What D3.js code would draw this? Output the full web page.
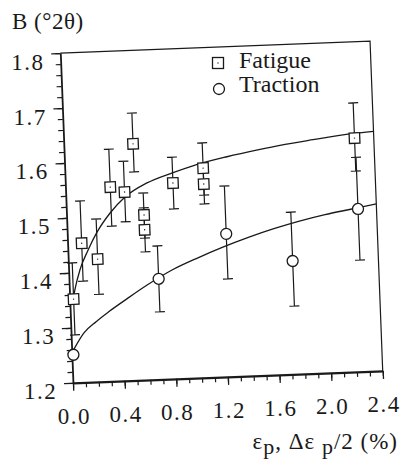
<!DOCTYPE html>
<html><head><meta charset="utf-8"><script src="https://cdn.jsdelivr.net/npm/d3@7"></script></head>
<body style="margin:0">
<svg id="chart" width="404" height="459"></svg>
<script>
// fatigue (squares)
const fatigueX = [0.03, 0.109, 0.228, 0.347, 0.456, 0.536, 0.60, 0.60, 0.833, 1.071, 1.071, 2.251];
const fatigueY = [1.352, 1.453, 1.423, 1.553, 1.543, 1.630, 1.500, 1.473, 1.556, 1.581, 1.552, 1.625];
const fatigueLo = [1.287, 1.384, 1.359, 1.482, 1.489, 1.579, 1.458, 1.433, 1.509, 1.532, 1.516, 1.565];
const fatigueHi = [1.418, 1.530, 1.496, 1.622, 1.599, 1.686, 1.540, 1.513, 1.603, 1.627, 1.588, 1.689];

// traction (circles)
const tractionX = [0.012, 0.694, 1.23, 1.736, 2.257];
const tractionY = [1.251, 1.383, 1.46, 1.406, 1.496];
const tractionLo = [null, 1.323, 1.378, 1.324, 1.403];
const tractionHi = [null, 1.443, 1.547, 1.495, 1.59];

// fitted curves
const fatigueCurveX = [0.03, 0.043, 0.088, 0.156, 0.231, 0.338, 0.458, 0.632, 0.837, 0.992, 1.259, 1.517, 1.672, 1.929, 2.217, 2.4];
const fatigueCurveY = [1.355, 1.369, 1.405, 1.44, 1.472, 1.506, 1.534, 1.558, 1.575, 1.586, 1.600, 1.611, 1.617, 1.625, 1.633, 1.636];
const tractionCurveX = [0.01, 0.1, 0.2, 0.3, 0.45, 0.6, 0.8, 1.0, 1.2, 1.4, 1.6, 1.8, 2.0, 2.2, 2.4];
const tractionCurveY = [1.258, 1.29, 1.31, 1.327, 1.35, 1.372, 1.398, 1.418, 1.436, 1.452, 1.466, 1.478, 1.488, 1.496, 1.504];

const xMajor = [0, 0.4, 0.8, 1.2, 1.6, 2.0, 2.4];
const xMinor = d3.range(0, 25).map(i => i / 10);
const yMajor = [1.2, 1.3, 1.4, 1.5, 1.6, 1.7, 1.8];
const yMinor = d3.range(0, 31).map(i => 1.2 + i * 0.02);

const ink = '#1a1a1a';
const font = "'Liberation Serif'";
const tilt = -2.2; // the scan is slightly rotated
const cx = 221.5, cy = 212;

const svg = d3.select('#chart');
svg.append('rect').attr('width', 404).attr('height', 459).attr('fill', '#fff');

const x = d3.scaleLinear().domain([0, 2.4]).range([66.5, 376.5]);
const y = d3.scaleLinear().domain([1.2, 1.8]).range([377, 47]);

const g = svg.append('g').attr('transform', `rotate(${tilt},${cx},${cy})`);

// frame top / right
g.append('path')
  .attr('d', `M${x(0)},${y(1.8)}H${x(2.4)}V${y(1.2)}`)
  .attr('fill', 'none').attr('stroke', ink).attr('stroke-width', 1.2);

function styleAxis(sel, width) {
  sel.select('.domain').attr('stroke', ink).attr('stroke-width', width);
  sel.selectAll('.tick line').attr('stroke', ink).attr('stroke-width', 1.3);
  sel.selectAll('text')
    .style('font-family', font)
    .style('font-size', '23px')
    .style('letter-spacing', '1.5px')
    .attr('fill', ink);
}

// x axis
const xMin = g.append('g').attr('transform', `translate(0,${y(1.2)})`)
  .call(d3.axisBottom(x).tickValues(xMinor).tickSize(5).tickSizeOuter(0).tickFormat(''));
xMin.select('.domain').remove();
xMin.selectAll('.tick line').attr('stroke', ink).attr('stroke-width', 1.2);

const xAx = g.append('g').attr('transform', `translate(0,${y(1.2)})`)
  .call(d3.axisBottom(x).tickValues(xMajor).tickSize(8).tickSizeOuter(0)
    .tickPadding(17).tickFormat(d3.format('.1f')));
styleAxis(xAx, 2.2);
xAx.selectAll('text').attr('transform', `rotate(${-tilt},0,26)`);

// y axis
const yMin = g.append('g').attr('transform', `translate(${x(0)},0)`)
  .call(d3.axisLeft(y).tickValues(yMinor).tickSize(5).tickSizeOuter(0).tickFormat(''));
yMin.select('.domain').remove();
yMin.selectAll('.tick line').attr('stroke', ink).attr('stroke-width', 1.2);

const yAx = g.append('g').attr('transform', `translate(${x(0)},0)`)
  .call(d3.axisLeft(y).tickValues(yMajor).tickSize(9).tickSizeOuter(0)
    .tickPadding(7).tickFormat(d3.format('.1f')));
styleAxis(yAx, 1.8);
yAx.selectAll('text').attr('transform', `translate(0,8) rotate(${-tilt},-16,0)`);

// curves
g.append('clipPath').attr('id', 'plot')
  .append('rect').attr('x', x(0)).attr('y', y(1.8))
  .attr('width', x(2.4) - x(0)).attr('height', y(1.2) - y(1.8));

const line = d3.line().x(d => x(d[0])).y(d => y(d[1])).curve(d3.curveMonotoneX);
const curves = g.append('g').attr('clip-path', 'url(#plot)');
curves.append('path').attr('d', line(d3.zip(fatigueCurveX, fatigueCurveY)))
  .attr('fill', 'none').attr('stroke', ink).attr('stroke-width', 1.3);
curves.append('path').attr('d', line(d3.zip(tractionCurveX, tractionCurveY)))
  .attr('fill', 'none').attr('stroke', ink).attr('stroke-width', 1.3);

// error bars
const cap = 5;
function errorBars(xs, lo, hi) {
  const rows = xs.map((d, i) => ({ x: d, lo: lo[i], hi: hi[i] })).filter(d => d.lo != null);
  const eb = g.append('g').attr('stroke', ink).attr('stroke-width', 1.2).attr('fill', 'none');
  eb.selectAll('path').data(rows).enter().append('path')
    .attr('d', d => {
      const px = x(d.x), y0 = y(d.lo), y1 = y(d.hi);
      return `M${px},${y0}V${y1}M${px - cap},${y0}H${px + cap}M${px - cap},${y1}H${px + cap}`;
    });
}
errorBars(fatigueX, fatigueLo, fatigueHi);
errorBars(tractionX, tractionLo, tractionHi);

// markers
const sq = 10.5;
const squares = g.append('g').selectAll('g').data(d3.zip(fatigueX, fatigueY)).enter().append('g')
  .attr('transform', d => `translate(${x(d[0])},${y(d[1])})`);
squares.append('rect')
  .attr('x', -sq / 2).attr('y', -sq / 2).attr('width', sq).attr('height', sq)
  .attr('fill', '#fff').attr('stroke', ink).attr('stroke-width', 1.3);
squares.append('circle').attr('r', 0.7).attr('fill', ink);

g.append('g').selectAll('circle').data(d3.zip(tractionX, tractionY)).enter().append('circle')
  .attr('cx', d => x(d[0])).attr('cy', d => y(d[1])).attr('r', 5.5)
  .attr('fill', '#fff').attr('stroke', ink).attr('stroke-width', 1.3);

// texts outside the tilted frame
function label(px, py, size, str) {
  return svg.append('text').attr('x', px).attr('y', py)
    .style('font-family', font).style('font-size', size + 'px')
    .attr('fill', ink).text(str);
}

label(12, 29, 23, 'B (°2θ)').style('letter-spacing', '0.5px');

// legend
const leg = svg.append('g');
leg.append('rect').attr('x', 218 - 5.5).attr('y', 63 - 5.5).attr('width', 11).attr('height', 11)
  .attr('fill', '#fff').attr('stroke', ink).attr('stroke-width', 1.3);
leg.append('circle').attr('cx', 218).attr('cy', 63).attr('r', 0.7).attr('fill', ink);
leg.append('circle').attr('cx', 219).attr('cy', 89).attr('r', 5.5)
  .attr('fill', '#fff').attr('stroke', ink).attr('stroke-width', 1.3);
label(239, 68, 24, 'Fatigue');
label(239, 92, 24, 'Traction');

// x axis title
const xt = label(398, 449, 23, null).attr('text-anchor', 'end').style('letter-spacing', '1px');
xt.append('tspan').text('ε');
xt.append('tspan').attr('dy', 5).style('font-size', '22px').text('p');
xt.append('tspan').attr('dy', -5).text(', Δε ');
xt.append('tspan').attr('dy', 5).style('font-size', '22px').text('p');
xt.append('tspan').attr('dy', -5).text('/2 (%)');
</script>
</body>
</html>
